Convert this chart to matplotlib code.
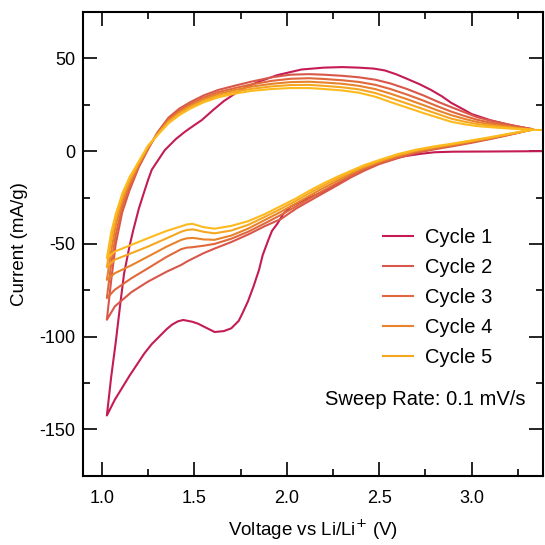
import numpy as np
import matplotlib
matplotlib.use('Agg')
import matplotlib.pyplot as plt
from matplotlib.ticker import MultipleLocator

plt.rcParams['font.family'] = ['Liberation Sans', 'DejaVu Sans']

# cycle 1: cathodic sweep from OCV, then anodic
c1_cath_v = [3.40, 3.10, 2.90, 2.80, 2.72, 2.62, 2.55, 2.47, 2.35, 2.24, 2.10, 2.02, 1.98, 1.95,
             1.92, 1.90, 1.87, 1.85, 1.82, 1.79, 1.76, 1.74, 1.70, 1.66, 1.61, 1.56, 1.52, 1.49,
             1.44, 1.41, 1.38, 1.35, 1.31, 1.27, 1.23, 1.19, 1.15, 1.11, 1.07, 1.027]
c1_cath_i = [0.0, -0.2, -0.3, -0.6, -1.5, -3.0, -5.0, -7.5, -13.0, -20.0, -26.0, -30.0, -34.0, -39.0,
             -43.0, -48.0, -56.0, -64.0, -73.0, -81.0, -87.5, -91.5, -95.5, -97.0, -97.5, -95.0, -93.0, -92.0,
             -91.0, -91.8, -93.5, -96.0, -100.0, -104.0, -109.0, -115.0, -121.0, -127.5, -134.0, -142.5]
c1_anod_v = [1.027, 1.05, 1.075, 1.10, 1.12, 1.15, 1.17, 1.20, 1.22, 1.25, 1.27, 1.30, 1.34, 1.40,
             1.45, 1.50, 1.54, 1.60, 1.66, 1.72, 1.77, 1.85, 1.95, 2.08, 2.20, 2.30, 2.39, 2.47,
             2.53, 2.59, 2.65, 2.72, 2.78, 2.84, 2.89, 2.95, 3.00, 3.10, 3.21, 3.33]
c1_anod_i = [-142.5, -122.0, -103.0, -82.0, -66.0, -51.0, -42.5, -31.0, -24.7, -15.5, -10.0, -5.5, 0.5, 6.5,
             10.5, 14.0, 16.7, 22.0, 27.0, 31.0, 34.0, 37.5, 41.0, 44.0, 45.0, 45.3, 45.0, 44.5,
             43.5, 41.5, 39.0, 36.0, 33.0, 29.5, 26.0, 22.8, 20.0, 16.7, 14.0, 11.8]

# cycles 2-6 share voltage grids
cath_v = [3.33, 3.25, 3.17, 3.10, 3.00, 2.90, 2.80, 2.70, 2.60, 2.50, 2.42, 2.35, 2.28, 2.20, 2.12,
          2.05, 1.97, 1.88, 1.79, 1.70, 1.61, 1.55, 1.51, 1.49, 1.46, 1.43, 1.35, 1.25, 1.16, 1.07, 1.027]
cath_i = [
    [11.8, 9.8, 8.0, 6.5, 4.5, 2.7, 1.0, -1.0, -3.8, -7.0, -10.5, -14.0, -18.0, -22.5, -27.0,
     -31.0, -36.5, -40.5, -45.0, -49.0, -52.5, -55.0, -57.0, -58.0, -59.5, -61.3, -65.0, -70.3, -76.0, -83.7, -90.9],
    [11.7, 9.9, 8.2, 6.8, 4.9, 3.1, 1.4, -0.5, -3.2, -6.4, -9.6, -13.0, -16.8, -21.2, -25.8,
     -29.8, -34.3, -39.0, -43.5, -47.2, -50.0, -51.0, -51.5, -51.8, -52.0, -52.8, -57.0, -63.1, -68.5, -74.7, -79.2],
    [11.6, 10.0, 8.4, 7.0, 5.2, 3.5, 1.8, 0.0, -2.6, -5.8, -8.8, -12.0, -15.6, -19.8, -24.2,
     -28.2, -32.6, -37.2, -41.8, -45.5, -47.8, -47.6, -47.0, -46.8, -47.0, -47.8, -51.5, -56.8, -61.5, -65.8, -69.4],
    [11.5, 10.1, 8.6, 7.2, 5.5, 3.8, 2.2, 0.4, -2.1, -5.3, -8.2, -11.2, -14.5, -18.5, -22.8,
     -26.8, -31.0, -35.5, -39.8, -42.8, -44.3, -43.5, -42.5, -42.2, -42.5, -43.4, -47.0, -51.4, -55.0, -58.5, -62.5],
    [11.5, 10.2, 8.8, 7.5, 5.8, 4.1, 2.6, 0.8, -1.6, -4.8, -7.5, -10.5, -13.5, -17.3, -21.5,
     -25.5, -29.5, -34.0, -37.8, -40.3, -41.8, -41.0, -39.8, -39.2, -39.5, -40.5, -43.0, -46.9, -50.5, -54.1, -57.7],
]
anod_v = [1.027, 1.05, 1.075, 1.11, 1.15, 1.20, 1.25, 1.30, 1.36, 1.42, 1.48, 1.55, 1.63, 1.72, 1.81,
          1.92, 2.02, 2.12, 2.20, 2.30, 2.39, 2.48, 2.56, 2.65, 2.74, 2.82, 2.89, 2.96, 3.03, 3.10,
          3.17, 3.25, 3.33]
anod_i = [
    [-90.9, -70.0, -50.0, -33.0, -21.0, -8.6, 1.0, 10.0, 18.0, 23.0, 26.5, 30.0, 33.0, 35.3, 37.5,
     39.8, 41.2, 41.5, 41.2, 40.6, 39.8, 38.5, 36.5, 33.5, 30.0, 26.5, 23.7, 21.0, 18.3, 16.5,
     15.0, 13.3, 11.8],
    [-79.2, -61.0, -45.0, -30.0, -19.0, -7.7, 1.6, 9.5, 17.1, 22.0, 25.5, 28.9, 31.8, 34.0, 36.0,
     37.9, 39.0, 39.3, 38.9, 38.2, 37.3, 35.7, 33.5, 30.5, 27.2, 24.0, 21.3, 19.0, 16.9, 15.4,
     14.2, 12.9, 11.7],
    [-69.4, -54.0, -40.0, -27.0, -17.0, -6.9, 2.1, 9.2, 16.4, 21.1, 24.6, 28.0, 30.8, 33.0, 34.8,
     36.3, 37.2, 37.4, 37.0, 36.3, 35.2, 33.4, 31.0, 28.0, 24.8, 21.8, 19.4, 17.4, 15.7, 14.5,
     13.6, 12.5, 11.6],
    [-62.5, -48.0, -36.5, -24.8, -15.5, -6.2, 2.6, 8.8, 15.7, 20.3, 23.8, 27.1, 29.9, 32.0, 33.6,
     34.9, 35.6, 35.7, 35.2, 34.4, 33.3, 31.3, 28.7, 25.7, 22.6, 19.9, 17.5, 15.9, 14.6, 13.7,
     13.0, 12.2, 11.5],
    [-57.7, -44.0, -34.0, -23.0, -14.0, -5.5, 3.0, 8.5, 15.0, 19.5, 23.0, 26.3, 29.0, 31.0, 32.5,
     33.5, 34.0, 34.0, 33.5, 32.7, 31.5, 29.3, 26.5, 23.5, 20.5, 18.0, 15.8, 14.5, 13.5, 12.9,
     12.4, 11.9, 11.5],
]
tail_v = [3.33, 3.40]
tail_i = [11.5, 11.3]

colors = ['#C41C52', '#D9574A', '#E0683C', '#E8832D', '#F6A722', '#FDBA1E']
labels = ['Cycle 1', 'Cycle 2', 'Cycle 3', 'Cycle 4', 'Cycle 5', None]

fig = plt.figure(figsize=(5.45, 5.45), dpi=100)
ax = fig.add_axes([0.153, 0.127, 0.843, 0.851])

lw = 1.5
v1 = np.concatenate([c1_cath_v, c1_anod_v])
i1 = np.concatenate([c1_cath_i, c1_anod_i])
ax.plot(v1, i1, color=colors[0], lw=lw, label=labels[0])
for k in range(5):
    v = np.concatenate([cath_v, anod_v])
    i = np.concatenate([cath_i[k], anod_i[k]])
    if k == 4:
        v = np.concatenate([v, tail_v])
        i = np.concatenate([i, tail_i])
    ax.plot(v, i, color=colors[k + 1], lw=lw, label=labels[k + 1])

ax.set_xlim(0.9, 3.385)
ax.set_ylim(-175, 75)
ax.xaxis.set_major_locator(MultipleLocator(0.5))
ax.xaxis.set_minor_locator(MultipleLocator(0.25))
ax.yaxis.set_major_locator(MultipleLocator(50))
ax.yaxis.set_minor_locator(MultipleLocator(25))
ax.tick_params(which='both', direction='in', top=True, right=True, width=1.2, labelsize=13)
ax.tick_params(which='major', length=10)
ax.tick_params(which='minor', length=5)
ax.tick_params(axis='x', which='major', pad=10)
ax.tick_params(axis='y', which='major', pad=6)
for s in ax.spines.values():
    s.set_linewidth(1.5)
ax.set_xticklabels(['' if t < 0.95 else f'{t:.1f}' for t in ax.get_xticks()])
ax.set_yticklabels([f'{int(t)}' for t in ax.get_yticks()])

ax.set_xlabel('Voltage vs Li/Li$^{+}$ (V)', fontsize=13.5, labelpad=8)
ax.set_ylabel('Current (mA/g)', fontsize=13.5, labelpad=8)

h, l = ax.get_legend_handles_labels()
ax.legend(h[:5], l[:5], loc='upper left', bbox_to_anchor=(0.652, 0.534), frameon=False,
          borderpad=0, borderaxespad=0,
          fontsize=14.5, handlelength=1.5, labelspacing=0.55, handletextpad=0.6)
ax.text(0.963, 0.165, 'Sweep Rate: 0.1 mV/s', transform=ax.transAxes, ha='right', va='center',
        fontsize=14.5)

fig.savefig('out.png', dpi=100)
